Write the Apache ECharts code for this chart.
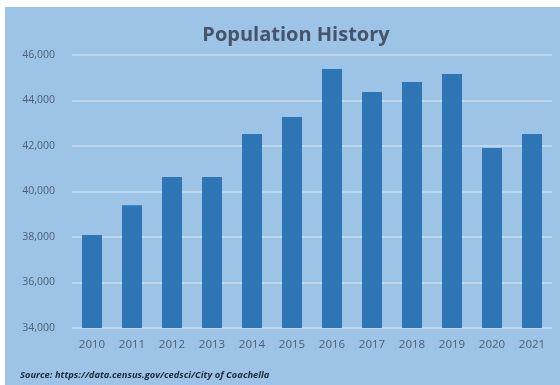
<!DOCTYPE html>
<html>
<head>
<meta charset="utf-8">
<script src="https://cdn.jsdelivr.net/npm/echarts@6/dist/echarts.min.js"></script>
<style>
html,body{margin:0;padding:0;background:#fff;}
#c{width:560px;height:385px;}
</style>
</head>
<body>
<div id="c"></div>
<script>
const years = ['2010','2011','2012','2013','2014','2015','2016','2017','2018','2019','2020','2021'];
const population = [38090, 39400, 40640, 40640, 42530, 43270, 45390, 44370, 44810, 45170, 41910, 42530];
const yTicks = {min: 34000, max: 46000, interval: 2000};
const titleText = 'Population History';
const sourceText = 'Source: https://data.census.gov/cedsci/City of Coachella';

const chart = echarts.init(document.getElementById('c'), null, {renderer: 'canvas'});
chart.setOption({
  animation: false,
  backgroundColor: '#ffffff',
  graphic: [
    {type: 'rect', left: 5, top: 7, z: -10, shape: {width: 555, height: 378}, style: {fill: '#9dc3e6'}},
    {type: 'text', left: 20, top: 371, z: 10, style: {text: sourceText, font: 'italic bold 9.4px "Open Sans", sans-serif', fill: '#1c2a3c'}}
  ],
  title: {
    text: titleText,
    left: 291, top: 20, textAlign: 'center',
    textStyle: {fontFamily: '"Open Sans", sans-serif', fontWeight: 'bold', fontSize: 20, color: '#44546a'}
  },
  grid: {left: 72, right: 8, top: 55, bottom: 57},
  xAxis: {
    type: 'category', data: years,
    axisLine: {show: false}, axisTick: {show: false},
    axisLabel: {color: '#4a5f7a', fontFamily: '"Open Sans", sans-serif', fontSize: 11.5, margin: 11}
  },
  yAxis: {
    type: 'value', min: yTicks.min, max: yTicks.max, interval: yTicks.interval,
    axisLine: {show: false}, axisTick: {show: false},
    splitLine: {lineStyle: {color: '#c6dcf0', width: 1.5}},
    axisLabel: {color: '#4a5f7a', fontFamily: '"Open Sans", sans-serif', fontSize: 10.5, margin: 17,
      formatter: v => v.toLocaleString('en-US')}
  },
  series: [{
    type: 'bar', data: population, barWidth: '50%',
    itemStyle: {color: '#2e75b6'}
  }]
});
</script>
</body>
</html>
